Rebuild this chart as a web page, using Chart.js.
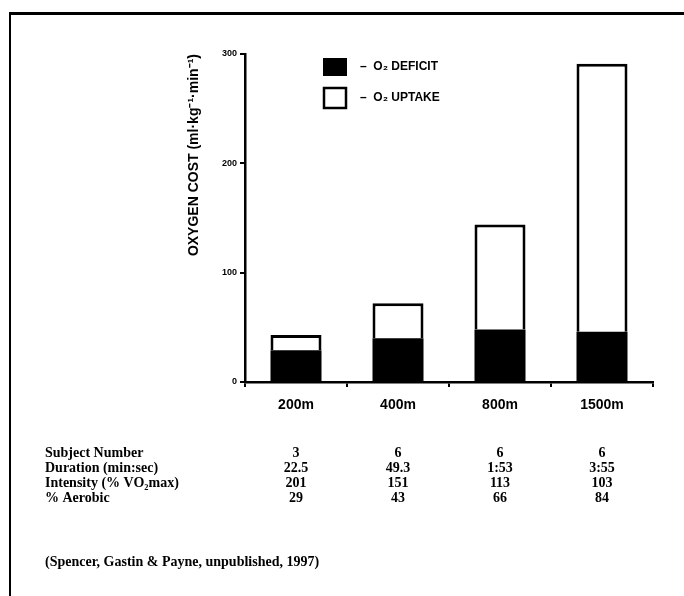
<!DOCTYPE html>
<html>
<head>
<meta charset="utf-8">
<script src="https://cdn.jsdelivr.net/npm/chart.js@4"></script>
<style>
html, body { margin: 0; padding: 0; background: #fff; }
#wrap { position: relative; width: 684px; height: 596px; overflow: hidden; }
#frame { position: absolute; left: 9px; top: 12px; right: 0; bottom: 0; border-top: 3px solid #000; border-left: 2px solid #000; }
#chart { position: absolute; left: 0; top: 0; }
</style>
</head>
<body>
<div id="wrap">
  <div id="frame"></div>
  <canvas id="chart" width="684" height="596"></canvas>
</div>
<script>
// distances and the two parts of oxygen cost (ml.kg-1.min-1)
var events = ['200m', '400m', '800m', '1500m'];
var deficit = [29, 40, 48, 46];
var uptake = [14, 32, 96, 245];
var yTicks = [0, 100, 200, 300];

// table under the chart
var rowLabels = ['Subject Number', 'Duration (min:sec)', 'Intensity (% VO\u2082max)', '% Aerobic'];
var subjects = ['3', '6', '6', '6'];
var durations = ['22.5', '49.3', '1:53', '3:55'];
var intensity = ['201', '151', '113', '103'];
var aerobic = ['29', '43', '66', '84'];
var source = '(Spencer, Gastin & Payne, unpublished, 1997)';

var extras = {
  id: 'extras',
  afterDraw: function (chart) {
    var c = chart.ctx;
    var x = chart.scales.x;
    var ds = chart.data.datasets;
    c.save();
    // legend
    c.fillStyle = '#000';
    c.fillRect(323, 58, 24, 18);
    c.lineWidth = 2.5;
    c.strokeStyle = '#000';
    c.strokeRect(324, 88, 22, 20);
    c.font = 'bold 12px "Liberation Sans"';
    c.textBaseline = 'middle';
    c.textAlign = 'left';
    c.fillText('\u2013  ' + ds[0].label, 360, 67);
    c.fillText('\u2013  ' + ds[1].label, 360, 98);

    // table
    var rows = [subjects, durations, intensity, aerobic];
    c.font = 'bold 14px "Liberation Serif"';
    for (let i = 0; i < rows.length; i++) {
      let y = 453 + i * 15;
      c.textAlign = 'left';
      c.fillText(rowLabels[i], 45, y);
      c.textAlign = 'center';
      for (let j = 0; j < rows[i].length; j++) {
        c.fillText(rows[i][j], x.getPixelForValue(j), y);
      }
    }
    c.textAlign = 'left';
    c.fillText(source, 45, 562);
    c.restore();
  }
};

var ctx = document.getElementById('chart').getContext('2d');
var graph = new Chart(ctx, {
  type: 'bar',
  data: {
    labels: events,
    datasets: [{
      label: 'O\u2082 DEFICIT',
      data: deficit,
      backgroundColor: '#000',
      borderWidth: 0
    }, {
      label: 'O\u2082 UPTAKE',
      data: uptake,
      backgroundColor: '#fff',
      borderColor: '#000',
      borderWidth: 3
    }]
  },
  options: {
    responsive: false,
    animation: false,
    barPercentage: 0.5,
    categoryPercentage: 1,
    layout: {
      padding: { left: 186, right: 31, top: 54, bottom: 174 }
    },
    plugins: {
      legend: { display: false },
      tooltip: { enabled: false }
    },
    scales: {
      x: {
        stacked: true,
        afterFit: function (s) { s.height = 40; },
        border: { color: '#000', width: 2.5 },
        grid: { drawOnChartArea: false, tickLength: 5, color: '#000', lineWidth: 2 },
        ticks: {
          color: '#000',
          padding: 10,
          font: { family: '"Liberation Sans"', size: 14, weight: 'bold' }
        }
      },
      y: {
        stacked: true,
        min: 0,
        max: 300,
        afterFit: function (s) { s.width = 59; },
        afterBuildTicks: function (s) { s.ticks = yTicks.map(function (v) { return { value: v }; }); },
        border: { color: '#000', width: 2.5 },
        grid: { drawOnChartArea: false, tickLength: 5, color: '#000', lineWidth: 2 },
        ticks: {
          color: '#000',
          padding: 3,
          font: { family: '"Liberation Sans"', size: 9, weight: 'bold' }
        },
        title: {
          display: true,
          text: 'OXYGEN COST (ml\u00b7kg\u207b\u00b9\u00b7min\u207b\u00b9)',
          align: 'end',
          color: '#000',
          padding: 0,
          font: { family: '"Liberation Sans"', size: 14, weight: 'bold' }
        }
      }
    }
  },
  plugins: [extras]
});
</script>
</body>
</html>
